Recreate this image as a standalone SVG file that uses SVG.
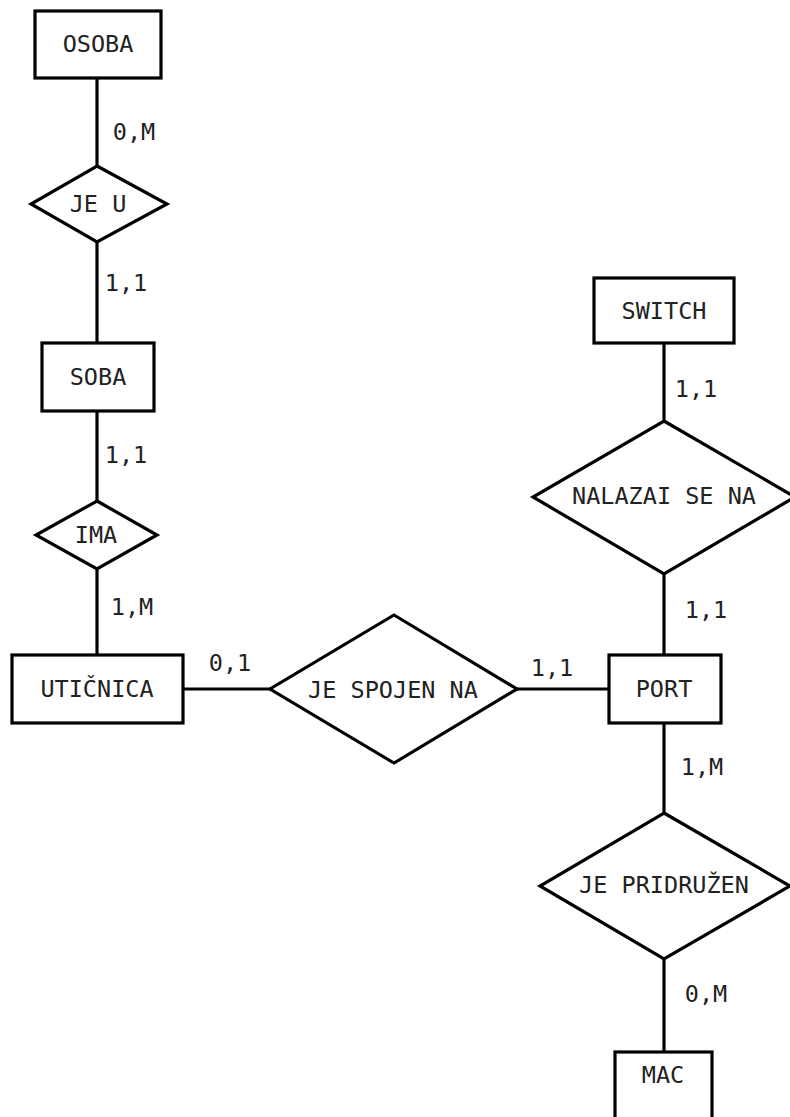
<svg xmlns="http://www.w3.org/2000/svg" width="790" height="1117" viewBox="0 0 790 1117">
<style>
.box{fill:#fff;stroke:#000;stroke-width:3.2}
.con line{stroke:#000;stroke-width:3.2}
text{font-family:"DejaVu Sans Mono","Liberation Mono",monospace;font-size:23.5px;fill:#222;text-anchor:middle}
</style>
<rect width="790" height="1117" fill="#fff"/>
<g class="con" id="connectors">
<line x1="97" y1="78" x2="97" y2="166"/>
<line x1="97" y1="242" x2="97" y2="343"/>
<line x1="97" y1="411" x2="97" y2="501"/>
<line x1="97" y1="569" x2="97" y2="655"/>
<line x1="183" y1="689" x2="270" y2="689"/>
<line x1="517" y1="689" x2="610" y2="689"/>
<line x1="664" y1="343" x2="664" y2="421"/>
<line x1="664" y1="574" x2="664" y2="655"/>
<line x1="664" y1="723" x2="664" y2="813"/>
<line x1="664" y1="959" x2="664" y2="1052"/>
</g>
<g id="labels">
<text x="134" y="140">0,M</text>
<text x="126" y="291">1,1</text>
<text x="126" y="463">1,1</text>
<text x="132" y="615">1,M</text>
<text x="230" y="671">0,1</text>
<text x="552" y="676">1,1</text>
<text x="696" y="397">1,1</text>
<text x="706" y="618">1,1</text>
<text x="702" y="775">1,M</text>
<text x="706" y="1002">0,M</text>
</g>
<g id="osoba"><rect class="box" x="35" y="11" width="126" height="67"/><text x="98" y="52">OSOBA</text></g>
<g id="je_u"><polygon class="box" points="97,166 167,204 97,242 31,204"/><text x="98" y="212">JE U</text></g>
<g id="soba"><rect class="box" x="42" y="343" width="112" height="68"/><text x="98" y="385">SOBA</text></g>
<g id="ima"><polygon class="box" points="97,501 157,535 97,569 36,535"/><text x="96" y="543">IMA</text></g>
<g id="uticnica"><rect class="box" x="12" y="655" width="171" height="68"/><text x="97" y="697">UTIČNICA</text></g>
<g id="je_spojen_na"><polygon class="box" points="394,615 517,689 394,763 270,689"/><text x="393" y="698">JE SPOJEN NA</text></g>
<g id="port"><rect class="box" x="609" y="655" width="112" height="68"/><text x="664" y="697">PORT</text></g>
<g id="switch"><rect class="box" x="594" y="278" width="140" height="65"/><text x="664" y="319">SWITCH</text></g>
<g id="nalazai_se_na"><polygon class="box" points="664,421 795,497 664,574 533,497"/><text x="664" y="504">NALAZAI SE NA</text></g>
<g id="je_pridruzen"><polygon class="box" points="664,813 790,886 664,959 540,886"/><text x="664" y="893">JE PRIDRUŽEN</text></g>
<g id="mac"><rect class="box" x="615" y="1052" width="97" height="80"/><text x="663" y="1083">MAC</text></g>
</svg>
